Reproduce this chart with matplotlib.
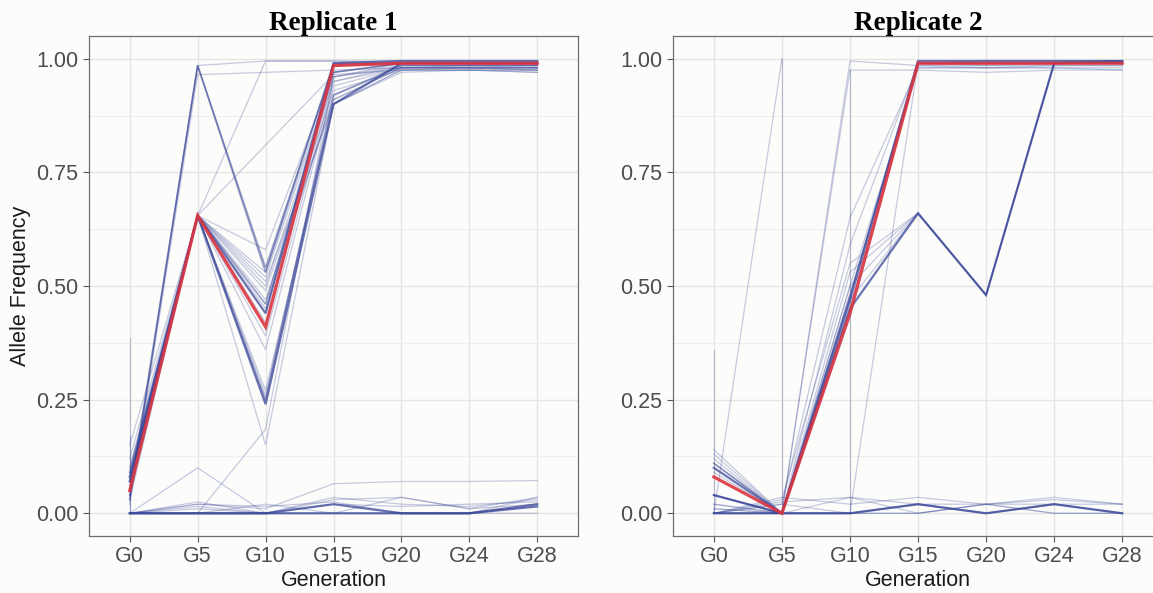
import matplotlib.pyplot as plt
import numpy as np

gens = ["G0", "G5", "G10", "G15", "G20", "G24", "G28"]

# replicate 1 trajectories (None = generation not sampled for that SNP)
rep1_faint = [
    [0.06, 0.655, 0.50, 0.95, 0.98, 0.985, 0.985],
    [0.07, 0.655, 0.52, 0.96, 0.985, 0.985, 0.98],
    [0.08, 0.655, 0.53, 0.97, 0.99, 0.99, 0.99],
    [0.09, 0.655, 0.49, 0.93, 0.975, 0.98, 0.975],
    [0.10, 0.655, 0.51, 0.90, 0.975, 0.975, 0.97],
    [0.12, 0.655, 0.47, 0.91, 0.98, 0.98, 0.98],
    [0.05, 0.655, 0.45, 0.92, 0.98, 0.98, 0.975],
    [0.15, 0.655, 0.58, 0.97, 0.99, 0.99, 0.985],
    [0.04, 0.655, 0.42, 0.96, 0.99, 0.99, 0.99],
    [0.06, 0.655, 0.39, 0.95, 0.985, 0.985, 0.985],
    [0.07, 0.655, 0.36, 0.94, 0.98, 0.98, 0.98],
    [0.03, 0.655, 0.27, 0.90, 0.975, 0.975, 0.975],
    [0.05, 0.655, 0.26, 0.91, 0.98, 0.98, 0.98],
    [0.10, 0.655, 0.15, 0.90, 0.97, 0.975, 0.97],
    [0.02, 0.965, 0.97, 0.975, 0.98, 0.98, 0.98],
    [0.03, 0.985, 0.995, 0.995, 0.99, 0.99, 0.99],
    [0.05, 0.655, 0.995, 0.995, 0.995, 0.995, 0.995],
    [0.04, 0.655, None, 0.965, 0.975, 0.975, 0.975],
    [0.0, 0.0, 0.185, 0.96, 0.98, 0.98, 0.98],
    [0.0, 0.10, 0.0, 0.0, 0.0, 0.0, 0.0],
    [0.0, 0.02, 0.01, 0.065, 0.07, 0.07, 0.072],
    [0.0, 0.025, 0.0, 0.035, 0.02, 0.015, 0.03],
    [0.0, 0.015, 0.0, 0.03, 0.035, 0.01, 0.035],
    [0.0, 0.02, 0.015, 0.025, 0.0, 0.0, 0.035],
    [0.0, 0.0, 0.02, 0.0, 0.035, 0.01, 0.02],
    [0.0, 0.01, 0.0, 0.02, 0.015, 0.02, 0.025],
]
rep1_mid = [
    [0.03, 0.985, 0.53, 0.99, 0.99, 0.99, 0.99],
    [0.04, 0.985, 0.54, 0.985, 0.99, 0.99, 0.99],
    [0.07, 0.655, 0.25, 0.92, 0.985, 0.985, 0.985],
    [0.09, 0.655, 0.46, 0.97, 0.99, 0.99, 0.99],
]
rep1_dark = [
    [0.07, 0.655, 0.44, 0.99, 0.995, 0.995, 0.995],
    [0.08, 0.655, 0.24, 0.90, 0.99, 0.99, 0.99],
    [0.0, 0.0, 0.0, 0.02, 0.0, 0.0, 0.02],
    [0.0, 0.0, 0.0, 0.0, 0.0, 0.0, 0.015],
]
rep1_focal = [0.05, 0.655, 0.41, 0.985, 0.99, 0.99, 0.99]
rep1_spikes = [("G0", 0.0, 0.385), ("G0", 0.0, 0.17)]

# replicate 2 trajectories
rep2_faint = [
    [0.12, 0.0, 0.46, 0.99, 0.99, 0.99, 0.99],
    [0.13, 0.0, 0.48, 0.985, 0.985, 0.99, 0.99],
    [0.14, 0.0, 0.50, 0.98, 0.98, 0.985, 0.985],
    [0.11, 0.0, 0.45, 0.99, 0.99, 0.99, 0.99],
    [0.09, 0.0, 0.43, 0.99, 0.995, 0.995, 0.995],
    [0.04, 0.0, 0.50, 0.66, 0.48, 0.99, 0.99],
    [0.02, 0.0, 0.53, 0.66, 0.48, 0.99, 0.99],
    [0.0, 0.0, 0.47, 0.66, 0.48, 0.99, 0.99],
    [0.0, 0.03, 0.55, 0.66, 0.48, 0.99, 0.99],
    [0.0, 1.0, None, None, None, None, None],
    [0.0, 0.0, 0.995, 0.985, 0.98, 0.98, 0.98],
    [0.0, 0.0, 0.975, 0.975, 0.97, 0.975, 0.975],
    [0.0, 0.0, 0.0, 0.99, 0.99, 0.99, 0.99],
    [0.0, 0.02, 0.65, 0.98, 0.98, 0.98, 0.975],
    [0.01, 0.0, 0.59, 0.99, 0.985, 0.985, 0.985],
    [0.02, 0.0, 0.035, 0.0, 0.02, 0.035, 0.02],
    [0.0, 0.035, 0.02, 0.035, 0.02, 0.02, 0.02],
    [0.0, 0.02, 0.0, 0.0, 0.02, 0.0, 0.0],
    [0.0, 0.025, 0.035, 0.02, 0.02, 0.03, 0.02],
    [0.01, 0.0, 0.0, 0.0, 0.02, 0.0, 0.0],
]
rep2_mid = [
    [0.04, 0.0, 0.0, 0.02, 0.0, 0.02, 0.0],
    [0.11, 0.0, 0.48, 0.99, 0.99, 0.99, 0.99],
]
rep2_dark = [
    [0.10, 0.0, 0.47, 0.995, 0.995, 0.995, 0.995],
    [0.04, 0.0, 0.45, 0.66, 0.48, 0.99, 0.995],
    [0.0, 0.0, 0.0, 0.02, 0.0, 0.02, 0.0],
]
rep2_focal = [0.08, 0.0, 0.44, 0.99, 0.99, 0.99, 0.99]
rep2_spikes = [("G0", 0.0, 0.36), ("G5", 0.0, 1.0), ("G10", 0.0, 0.975)]

BG = '#fcfcfa'
BLUE = '#3a4799'
RED = '#dc3540'


def traj(ax, vals, **kw):
    xs = [i for i, v in enumerate(vals) if v is not None]
    ys = [v for v in vals if v is not None]
    ax.plot(xs, ys, solid_joinstyle='miter', **kw)


def panel(ax, title, faint, mid, dark, focal, spikes):
    ax.set_facecolor(BG)
    for g, y0, y1 in spikes:
        i = gens.index(g)
        ax.plot([i, i], [y0, y1], color=BLUE, alpha=0.3, lw=0.8)
    for vals in faint:
        traj(ax, vals, color=BLUE, alpha=0.28, lw=0.9)
    for vals in mid:
        traj(ax, vals, color=BLUE, alpha=0.5, lw=1.2)
    for vals in dark:
        traj(ax, vals, color=BLUE, alpha=0.75, lw=1.6)
    traj(ax, focal, color=RED, alpha=0.9, lw=2.3)

    ax.set_xlim(-0.6, len(gens) - 0.4)
    ax.set_ylim(-0.05, 1.05)
    ax.set_xticks(range(len(gens)))
    ax.set_xticklabels(gens)
    ax.set_yticks([0, 0.25, 0.5, 0.75, 1.0])
    ax.set_yticklabels(['0.00', '0.25', '0.50', '0.75', '1.00'])
    ax.set_yticks(np.arange(0.125, 1.0, 0.25), minor=True)
    ax.grid(which='major', color='#e4e4e4', lw=1.0)
    ax.grid(which='minor', axis='y', color='#eeeeee', lw=0.8)
    ax.set_axisbelow(True)
    ax.tick_params(which='major', labelsize=15.5, labelcolor='#4d4d4d',
                   color='#555555', length=4, width=0.8)
    ax.tick_params(which='minor', length=0)
    for s in ax.spines.values():
        s.set_color('#6e6e6e')
        s.set_linewidth(0.9)
    ax.set_title(title, fontfamily='Liberation Serif', fontweight='bold',
                 fontsize=19.5, pad=4)
    ax.set_xlabel('Generation', fontsize=15.5, color='#1a1a1a', labelpad=2)


fig = plt.figure(figsize=(11.53, 5.93), dpi=100, facecolor=BG)
plt.rcParams['font.family'] = ['Liberation Sans', 'DejaVu Sans']

ax1 = fig.add_axes([0.0772, 0.0961, 0.4241, 0.8432])
ax2 = fig.add_axes([0.5837, 0.0961, 0.425, 0.8432])

panel(ax1, 'Replicate 1', rep1_faint, rep1_mid, rep1_dark, rep1_focal, rep1_spikes)
panel(ax2, 'Replicate 2', rep2_faint, rep2_mid, rep2_dark, rep2_focal, rep2_spikes)
ax1.set_ylabel('Allele Frequency', fontsize=15.5, color='#1a1a1a', labelpad=4)

fig.savefig('out.png', dpi=100, facecolor=BG)
